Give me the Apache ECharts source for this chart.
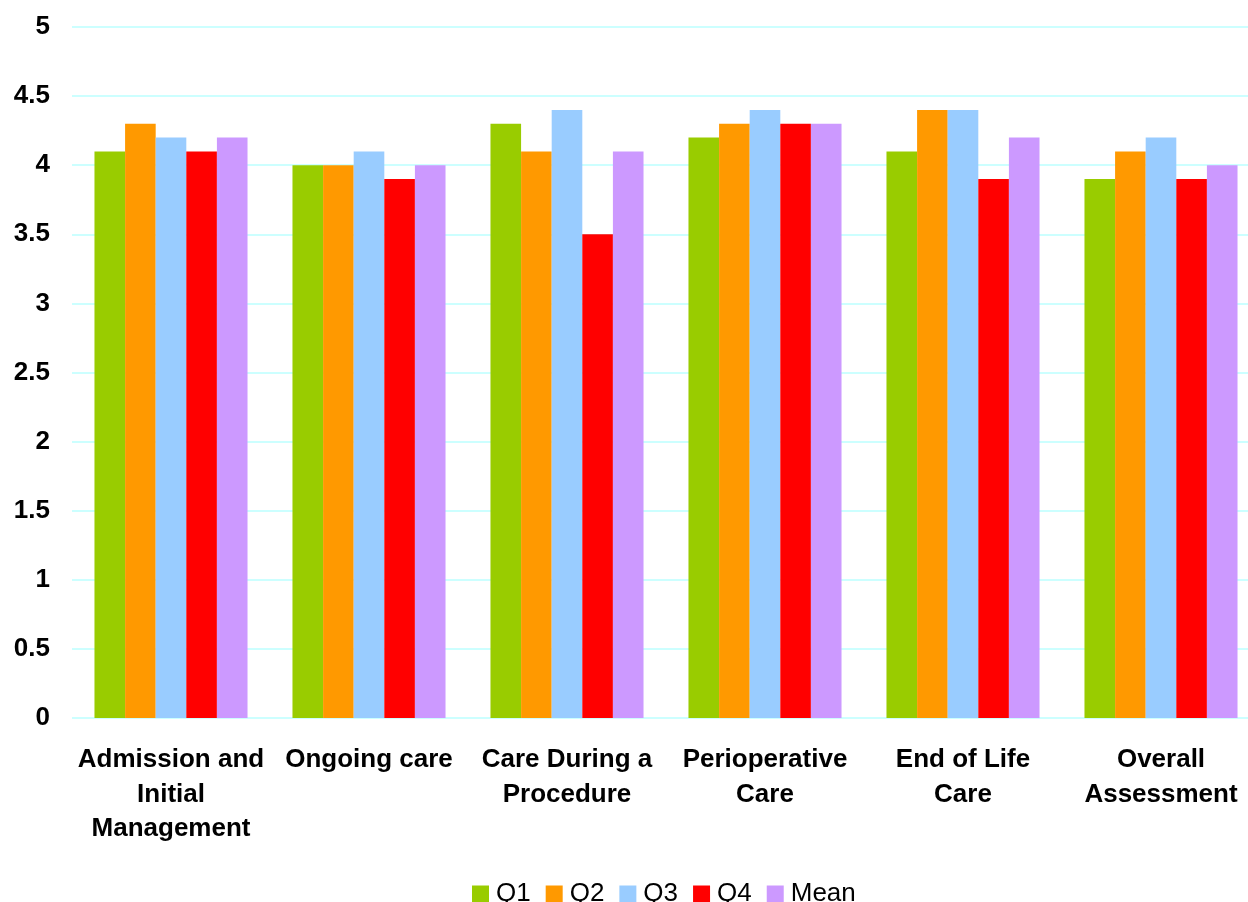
<!DOCTYPE html>
<html>
<head>
<meta charset="utf-8">
<script src="https://cdn.jsdelivr.net/npm/echarts@6/dist/echarts.min.js"></script>
<style>
  html, body { margin: 0; padding: 0; background: #fff; overflow: hidden; }
  /* canvas is slightly wider than the window so the plot area runs past the right edge */
  #chart { width: 1260px; height: 902px; }
</style>
</head>
<body>
<div id="chart"></div>
<script>
// Care domains on the x axis
var categories = [
  'Admission and\nInitial\nManagement',
  'Ongoing care',
  'Care During a\nProcedure',
  'Perioperative\nCare',
  'End of Life\nCare',
  'Overall\nAssessment'
];

// Scores per quarter, plus the mean
var q1   = [4.1, 4.0, 4.3, 4.2, 4.1, 3.9];
var q2   = [4.3, 4.0, 4.1, 4.3, 4.4, 4.1];
var q3   = [4.2, 4.1, 4.4, 4.4, 4.4, 4.2];
var q4   = [4.1, 3.9, 3.5, 4.3, 3.9, 3.9];
var mean = [4.2, 4.0, 4.1, 4.3, 4.2, 4.0];

var seriesNames = ['Q1', 'Q2', 'Q3', 'Q4', 'Mean'];
var seriesData = [q1, q2, q3, q4, mean];
var colors = ['#99CC00', '#FF9900', '#99CCFF', '#FF0000', '#CC99FF'];

var font = '"Liberation Sans", Arial, sans-serif';

var chart = echarts.init(document.getElementById('chart'));
chart.setOption({
  animation: false,
  color: colors,
  grid: { left: 72, right: 0, top: 27, bottom: 184, containLabel: false },
  legend: {
    top: 881,
    left: 472,
    padding: 0,
    itemWidth: 17,
    itemHeight: 17,
    itemGap: 15,
    icon: 'rect',
    textStyle: { fontFamily: font, fontSize: 26, color: '#000', padding: [0, 0, 0, 2] },
    data: seriesNames
  },
  xAxis: {
    type: 'category',
    data: categories,
    axisLine: { show: false },
    axisTick: { show: false },
    axisLabel: {
      interval: 0,
      margin: 25,
      fontFamily: font,
      fontSize: 26,
      fontWeight: 'bold',
      color: '#000',
      lineHeight: 34.5
    }
  },
  yAxis: {
    type: 'value',
    min: 0,
    max: 5,
    interval: 0.5,
    axisLine: { show: false },
    axisTick: { show: false },
    splitLine: { lineStyle: { color: '#CCFFFF', width: 2 } },
    axisLabel: {
      margin: 22,
      fontFamily: font,
      fontSize: 26,
      fontWeight: 'bold',
      color: '#000',
      padding: [3, 0, 0, 0]
    }
  },
  series: seriesNames.map(function (name, i) {
    return {
      name: name,
      type: 'bar',
      data: seriesData[i],
      barGap: '0%',
      barCategoryGap: '22.7%'
    };
  })
});
</script>
</body>
</html>
